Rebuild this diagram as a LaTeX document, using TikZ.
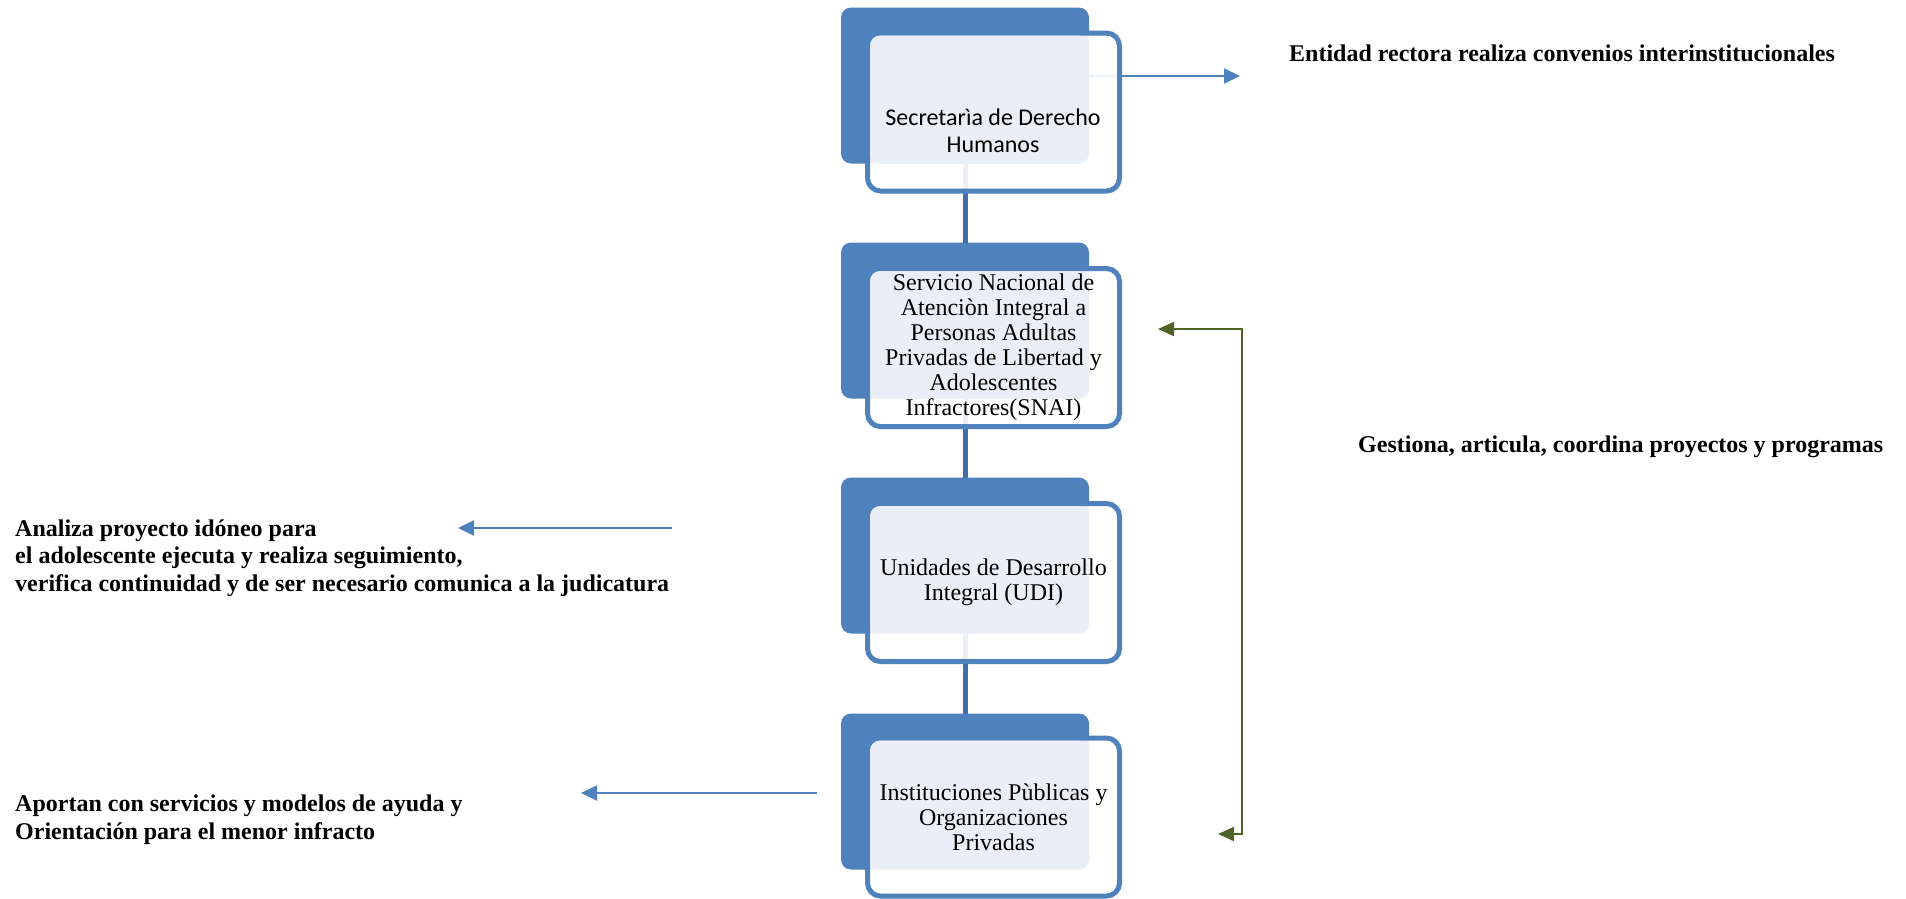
\documentclass[tikz,border=0pt]{standalone}
\usepackage{fontspec}
\setmainfont{Liberation Serif}
\newfontfamily\calibrifont{Carlito}
\usetikzlibrary{positioning,arrows.meta,calc}
\definecolor{boxblue}{RGB}{79,129,189}
\definecolor{paleblue}{RGB}{234,239,247}
\definecolor{linkblue}{RGB}{66,110,166}
\definecolor{arrowgreen}{RGB}{79,98,40}

\begin{document}
\begin{tikzpicture}[x=1pt,y=-1pt,
		back/.style={fill=boxblue, rounded corners=10pt, minimum width=248pt, minimum height=156pt, inner sep=0pt, outer sep=0pt},
		front/.style={draw=boxblue, line width=5pt, fill=white, fill opacity=0.9, rounded corners=13pt, minimum width=252pt, minimum height=158pt, inner sep=0pt, outer sep=0pt},
		tint/.style={fill=paleblue, rounded corners=10pt},
		boxtext/.style={align=center, inner sep=0pt, font=\fontsize{24}{25}\selectfont},
		link/.style={draw=linkblue, line width=5pt},
		note/.style={draw=boxblue, line width=2pt, -{Triangle[length=16pt,width=15pt]}},
		lbl/.style={anchor=west, align=left, inner sep=0pt, font=\fontsize{24}{27.5}\selectfont\bfseries}]
		\useasboundingbox (0,0) rectangle (1906,898);
		% back boxes
		\node[back] (b1) at (965,85.5) {};
		\node[back] (b2) at (965,320.5) {};
		\node[back] (b3) at (965,555.5) {};
		\node[back] (b4) at (965,791.5) {};
		% links between boxes
		\draw[link] (b1.south) -- (b2.north);
		\draw[link] (b2.south) -- (b3.north);
		\draw[link] (b3.south) -- (b4.north);
		% side arrows
		\coordinate (e1) at (1240,76);
		\draw[note] (b1.east |- e1) -- (e1);
		\coordinate (s2) at (672,528);
		\coordinate (e2) at (458,528);
		\draw[note] (s2) -- (e2);
		\coordinate (s3) at (817,793);
		\coordinate (e3) at (581,793);
		\draw[note] (s3) -- (e3);
		\coordinate (g1) at (1158,329);
		\coordinate (gt) at (1242,329);
		\coordinate (gb) at (1242,834);
		\coordinate (g2) at (1218,834);
		\draw[draw=arrowgreen, line width=2pt, {Triangle[length=16pt,width=14pt]}-{Triangle[length=16pt,width=14pt]}] (g1) -- (gt) -- (gb) -- (g2);
		% front boxes
		\node[front] (f1) at (993.5,112) {};
		\node[front] (f2) at (993.5,347.5) {};
		\node[front] (f3) at (993.5,582.5) {};
		\node[front] (f4) at (993.5,817) {};
		\fill[tint] ([shift={(2.5,2.5)}]f1.north west) rectangle (b1.south east);
		\fill[tint] ([shift={(2.5,2.5)}]f2.north west) rectangle (b2.south east);
		\fill[tint] ([shift={(2.5,2.5)}]f3.north west) rectangle (b3.south east);
		\fill[tint] ([shift={(2.5,2.5)}]f4.north west) rectangle (b4.south east);
		% box texts
		\node[boxtext, font=\calibrifont\fontsize{24}{27}\selectfont] (t1) at (993,131) {Secretarìa de Derecho\\Humanos};
		\node[boxtext] (t2) at (f2) {Servicio Nacional de\\Atenciòn Integral a\\Personas Adultas\\Privadas de Libertad y\\Adolescentes\\Infractores(SNAI)};
		\node[boxtext] (t3) at (f3) {Unidades de Desarrollo\\Integral (UDI)};
		\node[boxtext] (t4) at (f4) {Instituciones Pùblicas y\\Organizaciones\\Privadas};
		% labels
		\node[lbl] (l1) at (1289,53) {Entidad rectora realiza convenios interinstitucionales};
		\node[lbl] (l2) at (1358,447) {Gestiona, articula, coordina proyectos y programas};
		\node[lbl] (l3) at (15,558) {Analiza proyecto idóneo para\\el adolescente ejecuta y realiza seguimiento,\\verifica continuidad y de ser necesario comunica a la judicatura};
		\node[lbl] (l4) at (15,819.5) {Aportan con servicios y modelos de ayuda y\\Orientación para el menor infracto};
%		\node[lbl] at (15,880) {};
	\end{tikzpicture}
\end{document}
